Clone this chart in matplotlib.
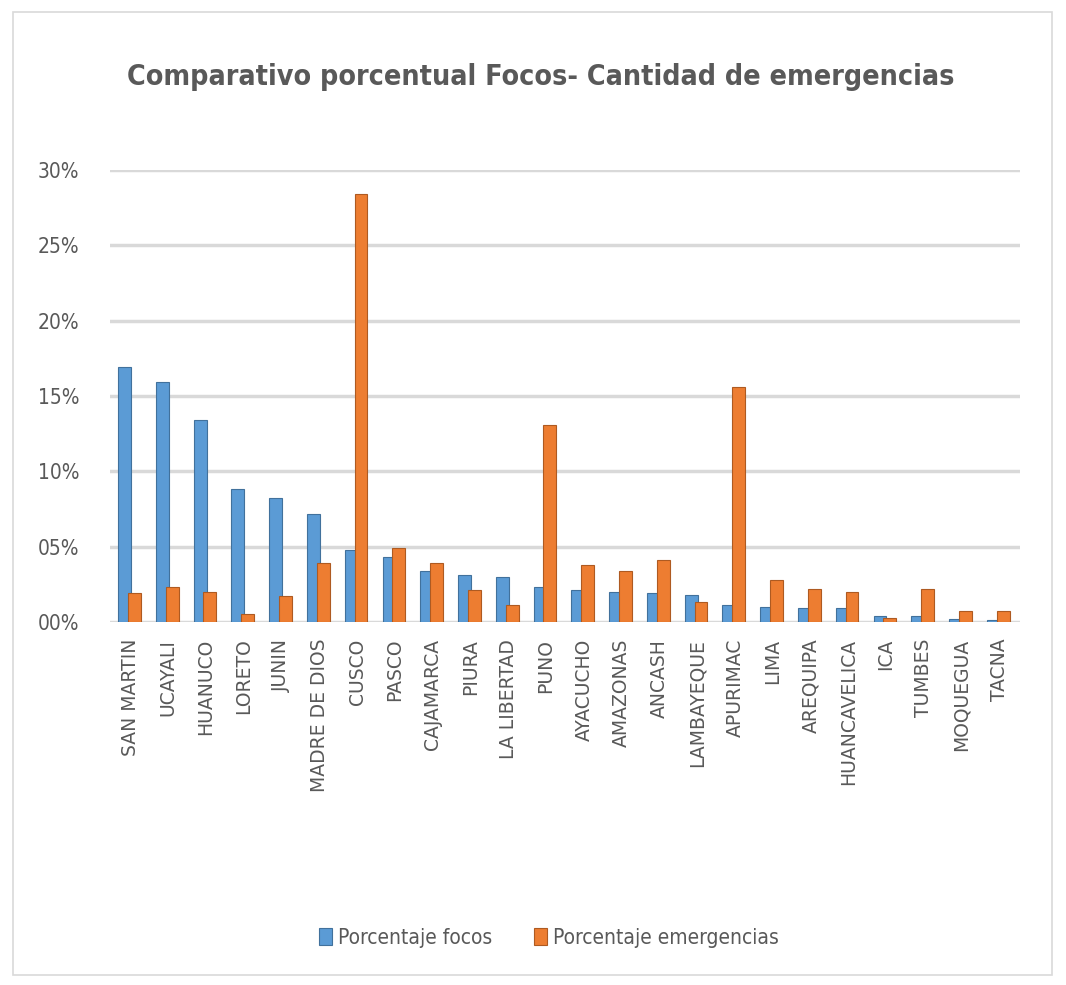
import numpy as np
import matplotlib.pyplot as plt
from matplotlib.patches import Rectangle

# data (percent)
departamentos = ['SAN MARTIN', 'UCAYALI', 'HUANUCO', 'LORETO', 'JUNIN', 'MADRE DE DIOS',
                 'CUSCO', 'PASCO', 'CAJAMARCA', 'PIURA', 'LA LIBERTAD', 'PUNO', 'AYACUCHO',
                 'AMAZONAS', 'ANCASH', 'LAMBAYEQUE', 'APURIMAC', 'LIMA', 'AREQUIPA',
                 'HUANCAVELICA', 'ICA', 'TUMBES', 'MOQUEGUA', 'TACNA']
focos = [16.9, 15.9, 13.4, 8.8, 8.2, 7.2, 4.8, 4.3, 3.4, 3.1, 3.0, 2.3, 2.1,
         2.0, 1.9, 1.8, 1.1, 1.0, 0.9, 0.9, 0.4, 0.4, 0.2, 0.15]
emergencias = [1.9, 2.3, 2.0, 0.5, 1.7, 3.9, 28.4, 4.9, 3.9, 2.1, 1.1, 13.1, 3.8,
               3.4, 4.1, 1.3, 15.6, 2.8, 2.2, 2.0, 0.3, 2.2, 0.7, 0.7]
yticks = [0, 5, 10, 15, 20, 25, 30]
ytick_labels = ['00%', '05%', '10%', '15%', '20%', '25%', '30%']

azul = '#5b9bd5'
naranja = '#ed7d31'
gris = '#595959'
cond = dict(family='DejaVu Sans', stretch='condensed')

fig = plt.figure(figsize=(10.66, 9.85), dpi=100)
fig.patches.append(Rectangle((0.012, 0.01), 0.975, 0.978, transform=fig.transFigure,
                             fill=False, edgecolor='#d9d9d9', linewidth=1.2))

ax = fig.add_axes([0.103, 0.3685, 0.854, 0.459])
x = np.arange(len(departamentos))
w = 0.34
ax.bar(x - 0.16, focos, width=w, color=azul, edgecolor='#41719c', linewidth=0.8, zorder=3,
       label='Porcentaje focos')
ax.bar(x + 0.1, emergencias, width=w, color=naranja, edgecolor='#ae5a21', linewidth=0.8,
       zorder=4, label='Porcentaje emergencias')

ax.set_ylim(0, 30)
ax.set_xlim(-0.55, len(departamentos) - 0.45)
ax.set_yticks(yticks)
ax.set_yticklabels(ytick_labels, fontsize=15, color=gris, **cond)
ax.set_xticks(x)
ax.set_xticklabels(departamentos, rotation=90, fontsize=13.5, color=gris)
ax.tick_params(length=0, pad=12)
ax.tick_params(axis='y', pad=22)
ax.yaxis.grid(True, color='#d9d9d9', linewidth=2.5, zorder=0)
for s in ax.spines.values():
    s.set_visible(False)

fig.text(0.507, 0.922, 'Comparativo porcentual Focos- Cantidad de emergencias', ha='center',
         va='center', fontsize=20.5, fontweight='bold', color=gris, **cond)

leg = fig.legend(loc='center', bbox_to_anchor=(0.515, 0.048), ncol=2, frameon=False,
                 handlelength=0.6, handleheight=0.9, handletextpad=0.3, columnspacing=2.0,
                 prop={'family': 'DejaVu Sans', 'stretch': 'condensed', 'size': 15})
for t in leg.get_texts():
    t.set_color(gris)

plt.savefig('out.png', dpi=100, facecolor='white')
